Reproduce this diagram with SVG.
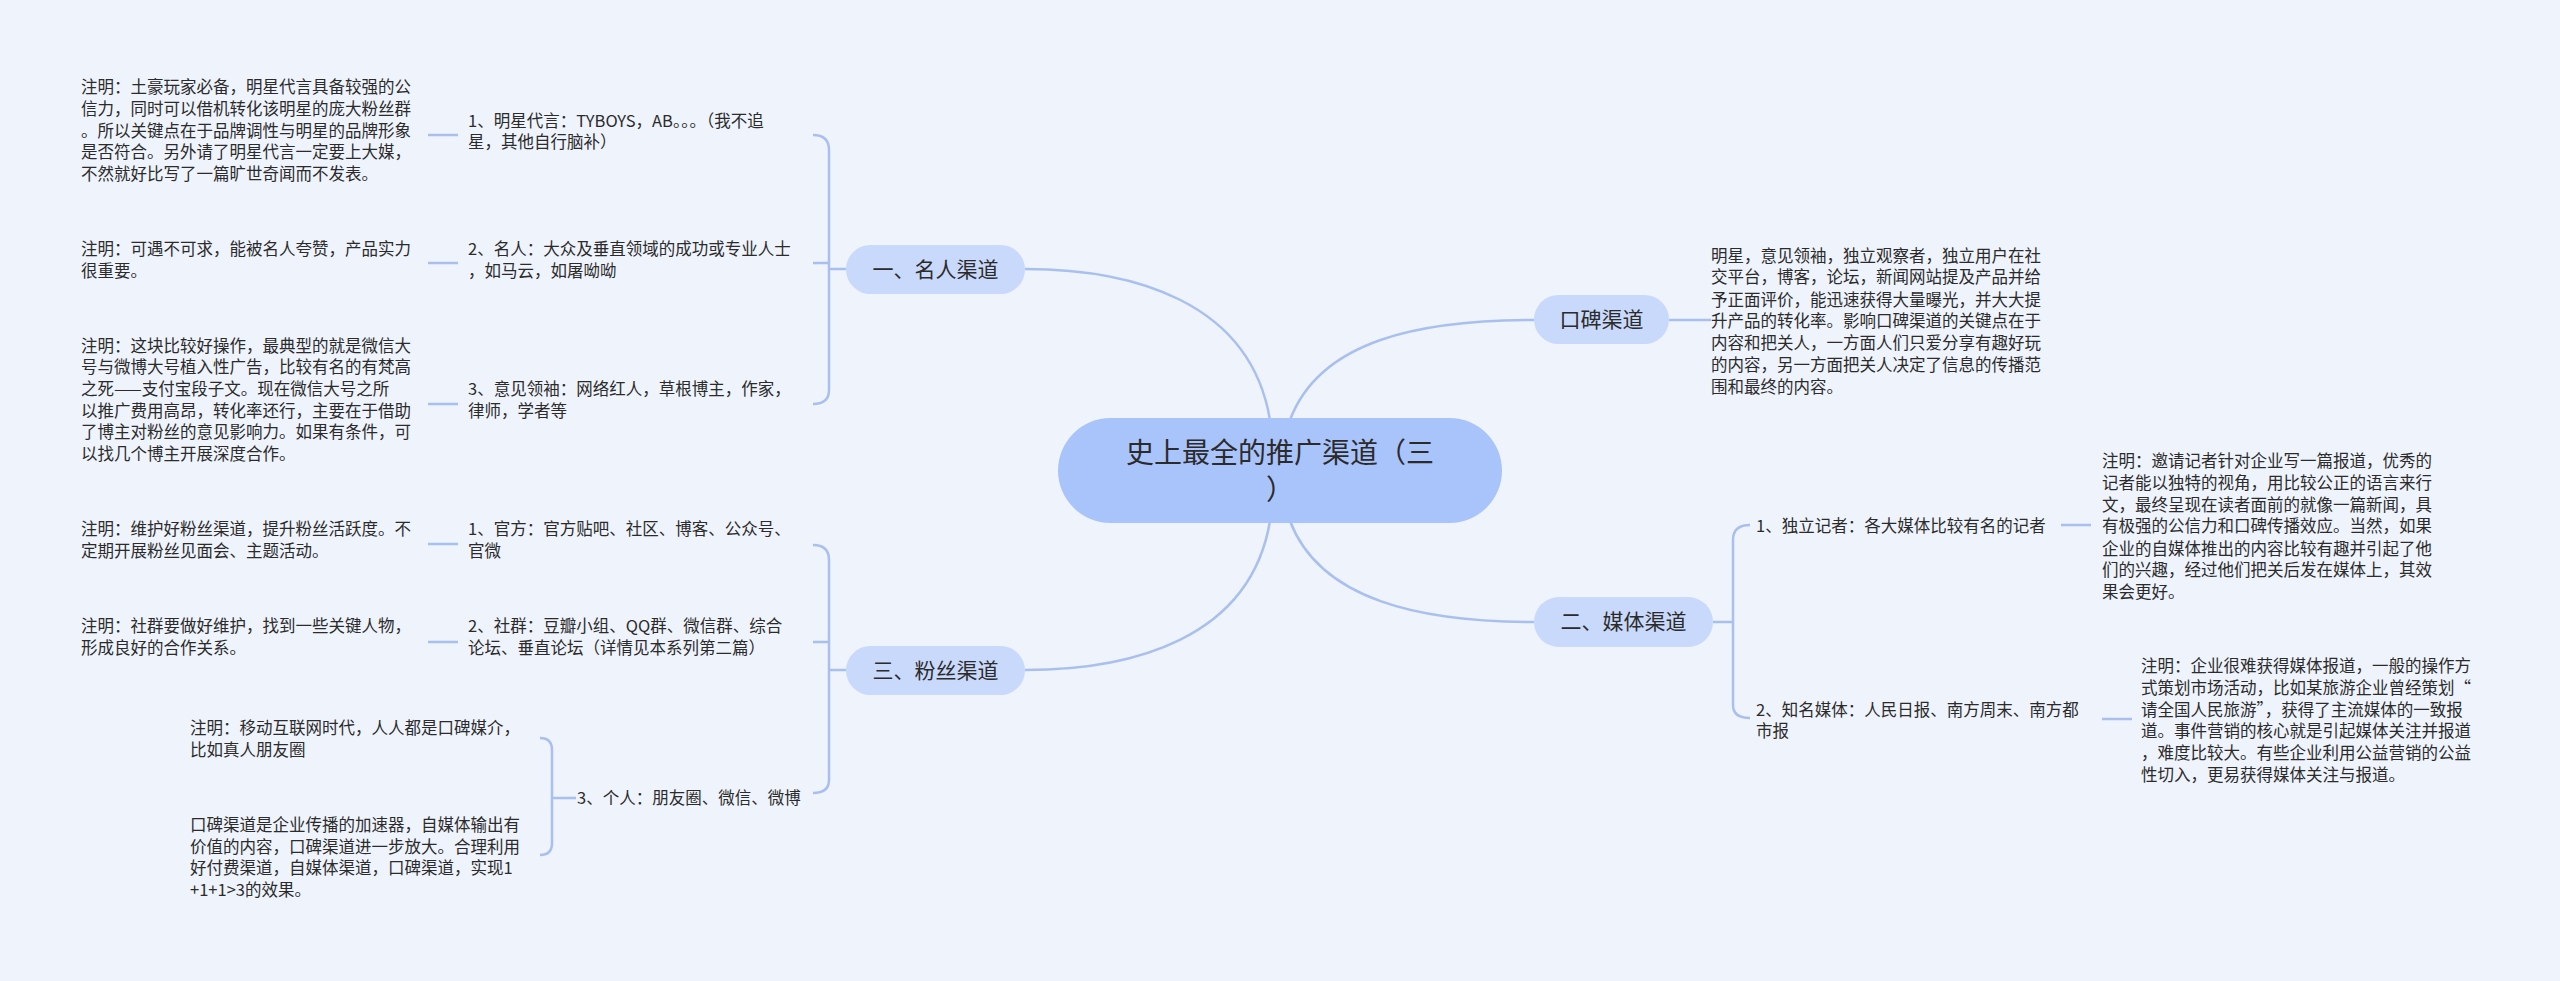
<svg xmlns="http://www.w3.org/2000/svg" width="2560" height="981" viewBox="0 0 2560 981">
<style>
text{font-family:"Noto Sans CJK SC","Liberation Sans",sans-serif;fill:#2b2b2b}
.t{font-size:16.5px}
.b{font-size:21px}
.r{font-size:28px}
.ln{fill:none;stroke:#a9c0ee;stroke-width:2.5}
.bn{fill:#c9d9fb}
</style>
<rect width="2560" height="981" fill="#eef3fc"/>
<g id="connectors">
<path class="ln" d="M1270,420 C1250,300 1130,269 1025,269"/>
<path class="ln" d="M1270,521 C1250,640 1130,670 1025,670"/>
<path class="ln" d="M1290,420 C1320,340 1420,320 1534,320"/>
<path class="ln" d="M1290,521 C1320,600 1420,622 1534,622"/>
<path class="ln" d="M846,269 H829 M813,135 Q829,135 829,150 V390 Q829,404 813,404 M829,263 Q829,263 813,263"/>
<path class="ln" d="M846,670 H829 M813,545 Q829,545 829,560 V780 Q829,793 813,793 M829,642 Q829,642 813,642"/>
<path class="ln" d="M1713,622 H1733 M1750,525 Q1733,525 1733,540 V705 Q1733,718 1750,718"/>
<path class="ln" d="M576,798 H552 M540,738 Q552,738 552,750 V843 Q552,855 540,855"/>
<path class="ln" d="M428,135 H458 M428,263 H458 M428,404 H458 M428,544 H458 M428,642 H458 M1669,320 H1711 M2061,525 H2091 M2102,719 H2132"/>
</g>
<g id="root">
<rect x="1058" y="418" width="444" height="105" rx="52.5" fill="#a9c3fb"/>
<text class="r" text-anchor="middle"><tspan x="1280" y="463">史上最全的推广渠道（三</tspan><tspan x="1280" y="500">）</tspan></text>
</g>
<g id="b1"><rect class="bn" x="846" y="245" width="179" height="49" rx="24.5"/><text class="b" x="935.5" y="277" text-anchor="middle">一、名人渠道</text></g>
<g id="b2"><rect class="bn" x="846" y="646" width="179" height="49" rx="24.5"/><text class="b" x="935.5" y="678" text-anchor="middle">三、粉丝渠道</text></g>
<g id="b3"><rect class="bn" x="1534" y="295" width="135" height="49" rx="24.5"/><text class="b" x="1601.5" y="327" text-anchor="middle">口碑渠道</text></g>
<g id="b4"><rect class="bn" x="1534" y="597" width="179" height="50" rx="25"/><text class="b" x="1623.5" y="629" text-anchor="middle">二、媒体渠道</text></g>
<g id="c1"><text class="t"><tspan x="468" y="127">1、明星代言：TYBOYS，AB。。。（我不追</tspan><tspan x="468" y="148">星，其他自行脑补）</tspan></text></g>
<g id="n1"><text class="t"><tspan x="81" y="93">注明：土豪玩家必备，明星代言具备较强的公</tspan><tspan x="81" y="115">信力，同时可以借机转化该明星的庞大粉丝群</tspan><tspan x="81" y="137">。所以关键点在于品牌调性与明星的品牌形象</tspan><tspan x="81" y="158">是否符合。另外请了明星代言一定要上大媒，</tspan><tspan x="81" y="180">不然就好比写了一篇旷世奇闻而不发表。</tspan></text></g>
<g id="c2"><text class="t"><tspan x="468" y="255">2、名人：大众及垂直领域的成功或专业人士</tspan><tspan x="468" y="277">，如马云，如屠呦呦</tspan></text></g>
<g id="n2"><text class="t"><tspan x="81" y="255">注明：可遇不可求，能被名人夸赞，产品实力</tspan><tspan x="81" y="277">很重要。</tspan></text></g>
<g id="c3"><text class="t"><tspan x="468" y="395">3、意见领袖：网络红人，草根博主，作家，</tspan><tspan x="468" y="417">律师，学者等</tspan></text></g>
<g id="n3"><text class="t"><tspan x="81" y="352">注明：这块比较好操作，最典型的就是微信大</tspan><tspan x="81" y="373">号与微博大号植入性广告，比较有名的有梵高</tspan><tspan x="81" y="395">之死——支付宝段子文。现在微信大号之所</tspan><tspan x="81" y="417">以推广费用高昂，转化率还行，主要在于借助</tspan><tspan x="81" y="438">了博主对粉丝的意见影响力。如果有条件，可</tspan><tspan x="81" y="460">以找几个博主开展深度合作。</tspan></text></g>
<g id="c4"><text class="t"><tspan x="468" y="535">1、官方：官方贴吧、社区、博客、公众号、</tspan><tspan x="468" y="557">官微</tspan></text></g>
<g id="n4"><text class="t"><tspan x="81" y="535">注明：维护好粉丝渠道，提升粉丝活跃度。不</tspan><tspan x="81" y="557">定期开展粉丝见面会、主题活动。</tspan></text></g>
<g id="c5"><text class="t"><tspan x="468" y="632">2、社群：豆瓣小组、QQ群、微信群、综合</tspan><tspan x="468" y="654">论坛、垂直论坛（详情见本系列第二篇）</tspan></text></g>
<g id="n5"><text class="t"><tspan x="81" y="632">注明：社群要做好维护，找到一些关键人物，</tspan><tspan x="81" y="654">形成良好的合作关系。</tspan></text></g>
<g id="c6"><text class="t" x="577" y="804">3、个人：朋友圈、微信、微博</text></g>
<g id="n6"><text class="t"><tspan x="190" y="734">注明：移动互联网时代，人人都是口碑媒介，</tspan><tspan x="190" y="756">比如真人朋友圈</tspan></text></g>
<g id="n7"><text class="t"><tspan x="190" y="831">口碑渠道是企业传播的加速器，自媒体输出有</tspan><tspan x="190" y="853">价值的内容，口碑渠道进一步放大。合理利用</tspan><tspan x="190" y="874">好付费渠道，自媒体渠道，口碑渠道，实现1</tspan><tspan x="190" y="896">+1+1&gt;3的效果。</tspan></text></g>
<g id="n8"><text class="t"><tspan x="1711" y="262">明星，意见领袖，独立观察者，独立用户在社</tspan><tspan x="1711" y="283">交平台，博客，论坛，新闻网站提及产品并给</tspan><tspan x="1711" y="306">予正面评价，能迅速获得大量曝光，并大大提</tspan><tspan x="1711" y="327">升产品的转化率。影响口碑渠道的关键点在于</tspan><tspan x="1711" y="349">内容和把关人，一方面人们只爱分享有趣好玩</tspan><tspan x="1711" y="371">的内容，另一方面把关人决定了信息的传播范</tspan><tspan x="1711" y="393">围和最终的内容。</tspan></text></g>
<g id="c7"><text class="t" x="1756" y="532">1、独立记者：各大媒体比较有名的记者</text></g>
<g id="n9"><text class="t"><tspan x="2102" y="467">注明：邀请记者针对企业写一篇报道，优秀的</tspan><tspan x="2102" y="489">记者能以独特的视角，用比较公正的语言来行</tspan><tspan x="2102" y="511">文，最终呈现在读者面前的就像一篇新闻，具</tspan><tspan x="2102" y="532">有极强的公信力和口碑传播效应。当然，如果</tspan><tspan x="2102" y="555">企业的自媒体推出的内容比较有趣并引起了他</tspan><tspan x="2102" y="576">们的兴趣，经过他们把关后发在媒体上，其效</tspan><tspan x="2102" y="598">果会更好。</tspan></text></g>
<g id="c8"><text class="t"><tspan x="1756" y="716">2、知名媒体：人民日报、南方周末、南方都</tspan><tspan x="1756" y="737">市报</tspan></text></g>
<g id="n10"><text class="t"><tspan x="2141" y="672">注明：企业很难获得媒体报道，一般的操作方</tspan><tspan x="2141" y="694">式策划市场活动，比如某旅游企业曾经策划“</tspan><tspan x="2141" y="716">请全国人民旅游”，获得了主流媒体的一致报</tspan><tspan x="2141" y="737">道。事件营销的核心就是引起媒体关注并报道</tspan><tspan x="2141" y="759">，难度比较大。有些企业利用公益营销的公益</tspan><tspan x="2141" y="781">性切入，更易获得媒体关注与报道。</tspan></text></g>
</svg>
